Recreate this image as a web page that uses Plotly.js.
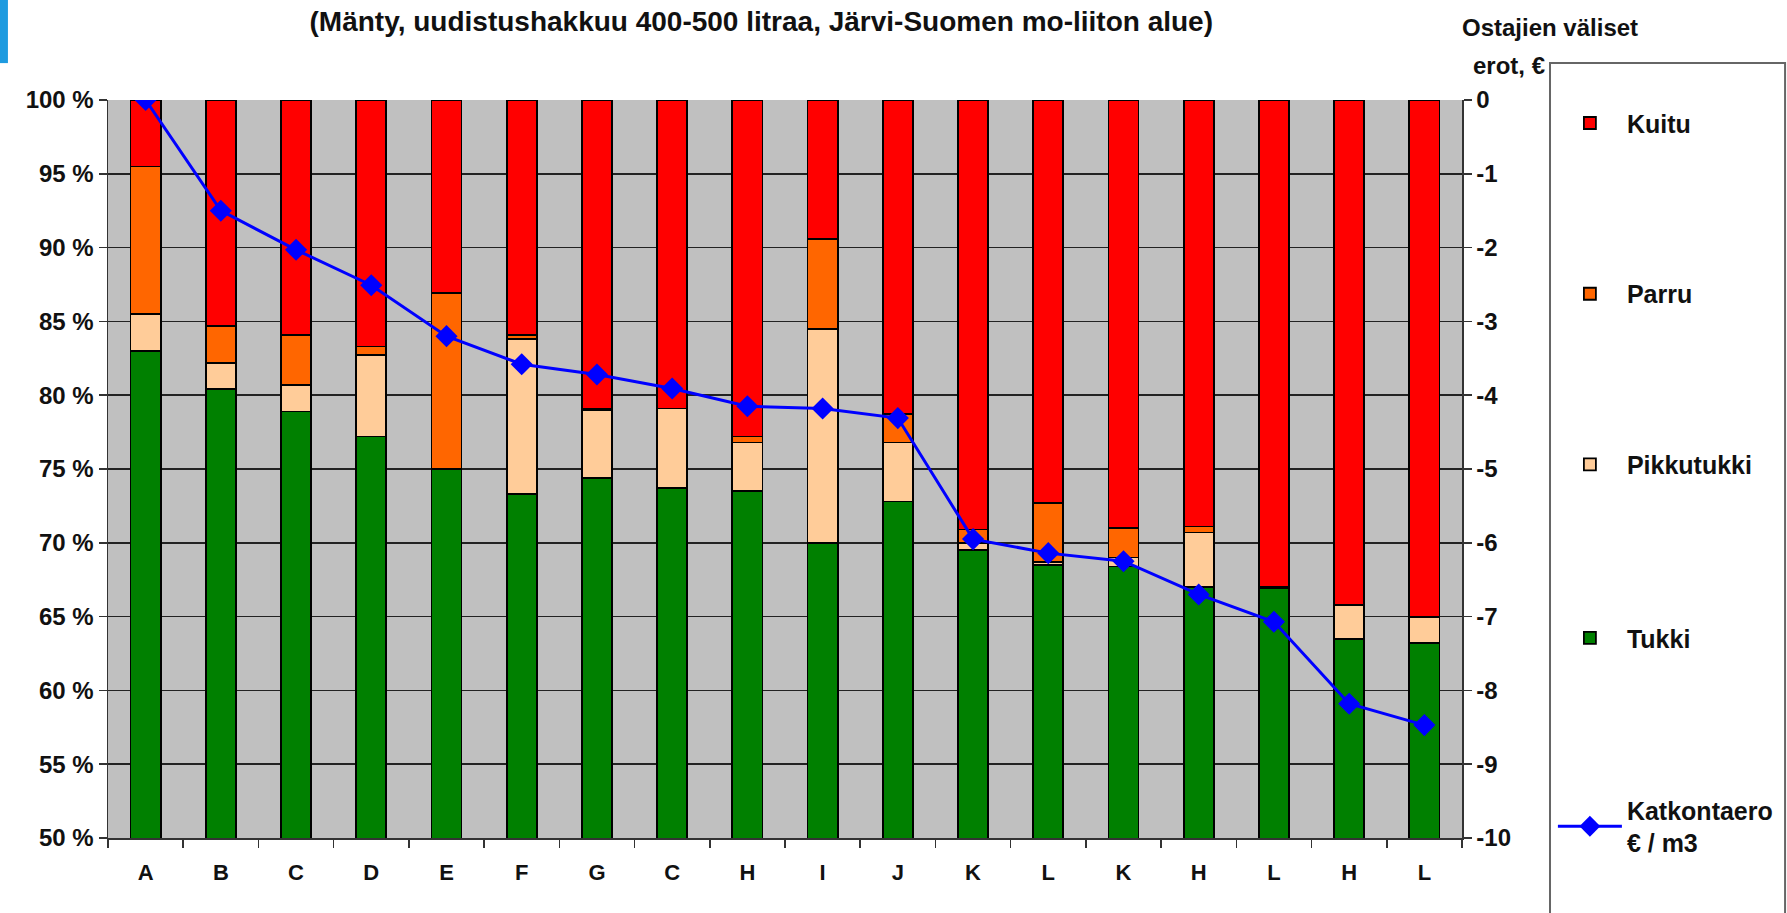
<!DOCTYPE html>
<html>
<head>
<meta charset="utf-8">
<script src="https://cdn.plot.ly/plotly-3.0.1.min.js"></script>
<style>html,body{margin:0;padding:0;background:#fff;}#chart{width:1787px;height:913px;}</style>
</head>
<body>
<div id="chart"></div>
<script>
// Buyers (x-axis labels)
const buyers = ['A','B','C','D','E','F','G','C','H','I','J','K','L','K','H','L','H','L'];
// Shares of timber assortments, % (stacked to 100)
const tukki      = [83.0, 80.4, 78.9, 77.2, 75.0, 73.3, 74.4, 73.7, 73.5, 70.0, 72.8, 69.5, 68.5, 68.4, 67.0, 66.9, 63.5, 63.2];
const pikkutukki = [ 2.5,  1.8,  1.8,  5.5,  0.0, 10.5,  4.6,  5.4,  3.3, 14.5,  4.0,  0.5,  0.2,  0.6,  3.7,  0.1,  2.3,  1.8];
const parru      = [10.0,  2.5,  3.4,  0.6, 11.9,  0.3,  0.1,  0.0,  0.4,  6.1,  1.9,  0.9,  4.0,  2.0,  0.4,  0.0,  0.0,  0.0];
const kuitu      = [ 4.5, 15.3, 15.9, 16.7, 13.1, 15.9, 20.9, 20.9, 22.8,  9.4, 21.3, 29.1, 27.3, 29.0, 28.9, 33.0, 34.2, 35.0];
// Bucking difference between buyers, € / m3 (right axis)
const katkontaero = [0, -1.50, -2.03, -2.51, -3.20, -3.58, -3.72, -3.91, -4.15, -4.18, -4.31, -5.95, -6.14, -6.25, -6.70, -7.07, -8.18, -8.47];
// Right axis ticks
const rightTicks = [0, -1, -2, -3, -4, -5, -6, -7, -8, -9, -10];

const idx = buyers.map((_, i) => i);
const bounds = [-0.5].concat(idx.map(i => i + 0.5));

const FONT = '"Liberation Sans", Arial, sans-serif';
const TXT = '#111111';
const outline = {color: '#000000', width: 1.8};

function barTrace(name, vals, color, legendId) {
  return {type: 'bar', name: name, x: idx, y: vals, legend: legendId,
    marker: {color: color, line: outline}, hoverinfo: 'y+name'};
}

const traces = [
  barTrace('Tukki', tukki, '#008000', 'legend4'),
  barTrace('Pikkutukki', pikkutukki, '#FFCC99', 'legend3'),
  barTrace('Parru', parru, '#FF6600', 'legend2'),
  barTrace('Kuitu', kuitu, '#FF0000', 'legend'),
  {type: 'scatter', mode: 'lines+markers', name: 'Katkontaero<br>€ / m3', x: idx, y: katkontaero,
   yaxis: 'y2', legend: 'legend5',
   line: {color: '#0000FF', width: 3}, marker: {symbol: 'diamond', size: 17, color: '#0000FF'}}
];

function leg(yc) {
  return {xref: 'container', yref: 'container', x: 0.869, y: yc, xanchor: 'left', yanchor: 'middle',
    bgcolor: 'rgba(0,0,0,0)', borderwidth: 0, font: {family: FONT, size: 25, color: TXT, weight: 'bold'},
    itemwidth: 64};
}

const layout = {
  width: 1787, height: 913,
  margin: {l: 108, r: 325, t: 100, b: 75},
  paper_bgcolor: '#ffffff', plot_bgcolor: '#C0C0C0',
  barmode: 'stack', bargap: 0.6,
  font: {family: FONT, size: 22, color: TXT, weight: 'bold'},
  title: {text: '(Mänty, uudistushakkuu 400-500 litraa, Järvi-Suomen mo-liiton alue)',
    font: {family: FONT, size: 28, color: TXT, weight: 'bold'}, xref: 'container', yref: 'container',
    x: 0.426, xanchor: 'center', y: 0.977, yanchor: 'middle'},
  xaxis: {range: [-0.5, buyers.length - 0.5], tickmode: 'array', tickvals: idx, ticktext: buyers,
    ticks: '', showgrid: false, zeroline: false, showline: true, linecolor: '#333', linewidth: 1.5,
    tickfont: {family: FONT, size: 22, color: TXT, weight: 'bold'}, ticklabelstandoff: 14,
    minor: {tickmode: 'array', tickvals: bounds, ticks: 'outside', ticklen: 8, tickcolor: '#333', tickwidth: 1.5, showgrid: false}},
  yaxis: {range: [50, 100], dtick: 5, ticksuffix: ' %', showline: true, linecolor: '#333', linewidth: 1.5,
    ticks: 'outside', ticklen: 8, tickcolor: '#333', tickwidth: 1.5,
    showgrid: true, gridcolor: '#222', gridwidth: 1.5, zeroline: false,
    tickfont: {family: FONT, size: 24, color: TXT, weight: 'bold'}},
  yaxis2: {range: [-10, 0], tickmode: 'array', tickvals: rightTicks, ticktext: rightTicks.map(v => String(v)),
    overlaying: 'y', side: 'right', showline: true, linecolor: '#333', linewidth: 1.5,
    ticks: 'outside', ticklen: 8, tickcolor: '#333', tickwidth: 1.5, showgrid: false, zeroline: false,
    tickfont: {family: FONT, size: 24, color: TXT, weight: 'bold'}},
  legend: leg(0.865), legend2: leg(0.678), legend3: leg(0.491), legend4: leg(0.301),
  legend5: leg(0.095),
  shapes: [
    {type: 'rect', xref: 'paper', yref: 'paper', x0: 1.065, x1: 1.2386, y0: -0.2, y1: 1.050,
     line: {color: '#666', width: 2}, fillcolor: 'rgba(0,0,0,0)', layer: 'above'},
    {type: 'rect', xref: 'paper', yref: 'paper', x0: -0.0798, x1: -0.0739, y0: 1.050, y1: 1.14,
     line: {width: 0}, fillcolor: '#1E9BE0', layer: 'above'}
  ],
  annotations: [
    {text: 'Ostajien väliset', xref: 'paper', yref: 'paper', x: 0.9985, y: 1.0976,
     xanchor: 'left', yanchor: 'middle', showarrow: false, font: {family: FONT, size: 24, color: TXT, weight: 'bold'}},
    {text: 'erot, €', xref: 'paper', yref: 'paper', x: 1.0628, y: 1.0474,
     xanchor: 'right', yanchor: 'middle', showarrow: false, font: {family: FONT, size: 24, color: TXT, weight: 'bold'}}
  ],
  showlegend: true
};

Plotly.newPlot('chart', traces, layout, {displayModeBar: false, staticPlot: true});
</script>
</body>
</html>
